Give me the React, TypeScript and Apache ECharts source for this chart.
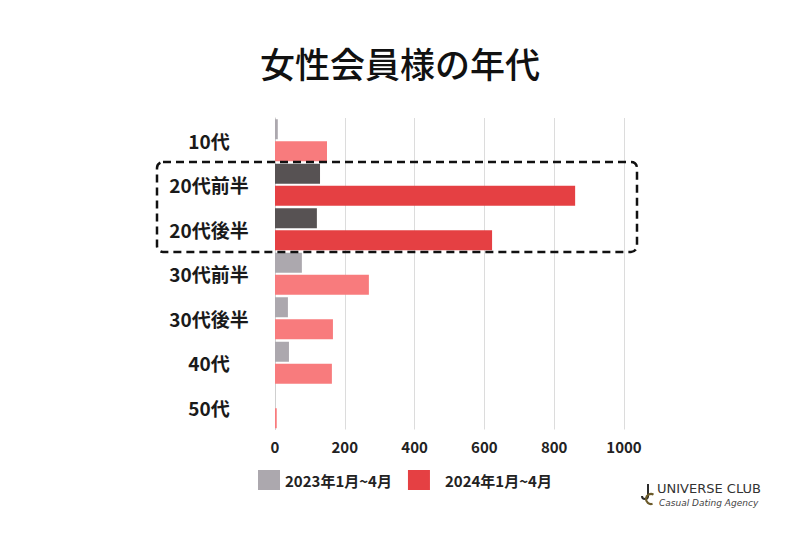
import React, { useEffect, useRef } from "react";
import * as echarts from "echarts";

const categories = ["10代", "20代前半", "20代後半", "30代前半", "30代後半", "40代", "50代"];
const values2023 = [8, 129, 120, 77, 37, 40, 0];
const values2024 = [149, 860, 622, 269, 166, 163, 5];
const highlighted = ["20代前半", "20代後半"];
const seriesNames = ["2023年1月~4月", "2024年1月~4月"];
const xTicks = [0, 200, 400, 600, 800, 1000];

const COLORS = {
  gray: "#aca8ae",
  dark: "#575253",
  pink: "#f87b7d",
  red: "#e54043",
};

export default function App() {
  const ref = useRef<HTMLDivElement>(null);
  useEffect(() => {
    if (!ref.current) return;
    const chart = echarts.init(ref.current, null, { renderer: "svg" });
    const font = "'Noto Sans CJK JP', 'Noto Sans', sans-serif";
    const mk = (vals: number[], normal: string, hi: string) =>
      vals.map((v, i) => ({
        value: v,
        itemStyle: { color: highlighted.includes(categories[i]) ? hi : normal },
      }));
    chart.setOption({
      animation: false,
      textStyle: { fontFamily: font },
      title: {
        text: "女性会員様の年代",
        left: "center",
        top: 40,
        textStyle: { fontSize: 35, fontWeight: 500, color: "#111", fontFamily: font },
      },
      grid: { left: 275, width: 349, top: 118, height: 311.5 },
      legend: {
        left: 253,
        top: 465,
        itemWidth: 22,
        itemHeight: 20,
        itemGap: 16,
        icon: "rect",
        textStyle: { fontSize: 15, fontWeight: "bold", color: "#222", fontFamily: font, padding: [0, 0, 0, 0] },
        data: [
          { name: seriesNames[0] },
          { name: seriesNames[1], textStyle: { padding: [0, 0, 0, 10] } },
        ],
      },
      xAxis: {
        type: "value",
        min: 0,
        max: 1000,
        interval: 200,
        axisLine: { show: false },
        axisTick: { show: false },
        splitLine: { lineStyle: { color: "#dcdcdc", width: 1 } },
        axisLabel: {
          margin: 9,
          fontSize: 15,
          fontWeight: "bold",
          color: "#222",
          fontFamily: font,
          formatter: (v: number) => (xTicks.includes(v) ? String(v) : ""),
        },
      },
      yAxis: {
        type: "category",
        data: categories,
        inverse: true,
        axisLine: { show: true, lineStyle: { color: "#cfcfcf" } },
        axisTick: { show: false },
        axisLabel: {
          align: "center",
          margin: 66,
          fontSize: 19,
          fontWeight: "bold",
          color: "#1a1a1a",
          fontFamily: font,
        },
      },
      series: [
        {
          name: seriesNames[0],
          type: "bar",
          barWidth: 20,
          barGap: "10%",
          itemStyle: { color: COLORS.gray },
          data: mk(values2023, COLORS.gray, COLORS.dark),
        },
        {
          name: seriesNames[1],
          type: "bar",
          barWidth: 20,
          barGap: "10%",
          itemStyle: { color: COLORS.red },
          data: mk(values2024, COLORS.pink, COLORS.red),
        },
      ],
      graphic: [
        {
          type: "rect",
          shape: { x: 157, y: 162, width: 480, height: 90, r: 6 },
          style: { fill: "none", stroke: "#111", lineWidth: 2.5, lineDash: [8, 5] },
          z: 10,
        },
        {
          type: "line",
          shape: { x1: 648, y1: 484, x2: 648, y2: 497 },
          style: { stroke: "#2b2b2b", lineWidth: 2 },
        },
        {
          type: "arc",
          shape: { cx: 645, cy: 496, r: 3, startAngle: 0, endAngle: Math.PI },
          style: { stroke: "#2b2b2b", lineWidth: 2, fill: "none" },
        },
        {
          type: "arc",
          shape: { cx: 651, cy: 499, r: 5, startAngle: -Math.PI / 3, endAngle: Math.PI / 2.5, clockwise: false },
          style: { stroke: "#6b5a2a", lineWidth: 2.2, fill: "none" },
        },
        {
          type: "text",
          x: 657,
          y: 482,
          style: {
            text: "UNIVERSE CLUB",
            font: "13px 'DejaVu Sans', sans-serif",
            fill: "#333",
          },
        },
        {
          type: "text",
          x: 659,
          y: 498,
          style: {
            text: "Casual Dating Agency",
            font: "italic 9px 'DejaVu Sans', sans-serif",
            fill: "#444",
          },
        },
      ],
    });
    return () => chart.dispose();
  }, []);
  return (
    <div
      ref={ref}
      style={{ position: "fixed", left: 0, top: 0, width: 800, height: 533, background: "#fff" }}
    />
  );
}
